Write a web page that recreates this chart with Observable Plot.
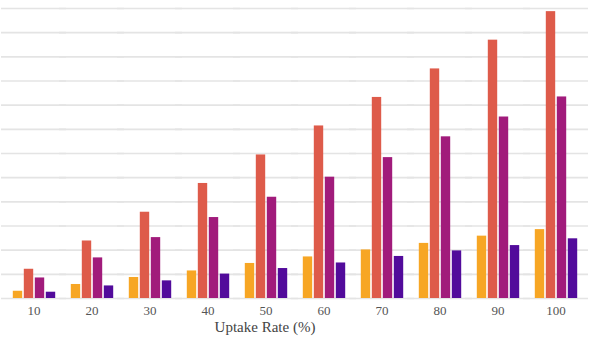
<!DOCTYPE html>
<html>
<head>
<meta charset="utf-8">
<script src="https://cdn.jsdelivr.net/npm/d3@7"></script>
<script src="https://cdn.jsdelivr.net/npm/@observablehq/plot@0.6"></script>
<style>
  html, body { margin: 0; padding: 0; background: #fff; }
</style>
</head>
<body>
<div id="chart"></div>
<script>
const groups = ["10", "20", "30", "40", "50", "60", "70", "80", "90", "100"];
const seriesNames = ["A", "B", "C", "D"];
const seriesColors = ["#f7a624", "#de5b4a", "#a11b7b", "#520b9b"];
const seriesA = [3.0, 5.8, 8.7, 11.4, 14.5, 17.2, 20.1, 22.8, 25.8, 28.5];
const seriesB = [12.1, 23.8, 35.7, 47.6, 59.4, 71.4, 83.2, 95.0, 106.9, 118.7];
const seriesC = [8.5, 16.8, 25.2, 33.5, 41.9, 50.2, 58.3, 66.9, 75.1, 83.4];
const seriesD = [2.6, 5.2, 7.3, 10.1, 12.4, 14.7, 17.4, 19.7, 21.9, 24.7];
const gridValues = [0, 10, 20, 30, 40, 50, 60, 70, 80, 90, 100, 110, 120];
const xLabel = "Uptake Rate (%)";

const allSeries = [seriesA, seriesB, seriesC, seriesD];
const data = [];
groups.forEach((g, i) => {
  seriesNames.forEach((s, j) => {
    data.push({group: g, series: s, value: allSeries[j][i]});
  });
});

const serif = "'Liberation Serif', 'DejaVu Serif', serif";

const chart = Plot.plot({
  width: 600,
  height: 338,
  marginLeft: 0,
  marginRight: 10,
  marginTop: 8,
  marginBottom: 40,
  style: {fontFamily: serif, background: "#fff"},
  fx: {domain: groups, paddingInner: 0.22, paddingOuter: 0.17, label: null},
  x: {domain: seriesNames, axis: null, padding: 0},
  y: {domain: [0, 120], axis: null},
  color: {domain: seriesNames, range: seriesColors},
  marks: [
    Plot.ruleY(gridValues, {y: d => d, stroke: "#e4e4e4", strokeWidth: 1.6, insetLeft: -10, insetRight: -10}),
    Plot.barY(data, {fx: "group", x: "series", y: "value", fill: "series", insetLeft: 0.8, insetRight: 0.8}),
    Plot.axisFx({anchor: "bottom", tickSize: 0, tickPadding: 7, fontSize: 13, fontFamily: serif, color: "#555", label: null}),
    Plot.text([xLabel], {frameAnchor: "bottom", dy: 33, dx: -30, text: d => d, fontSize: 15, fontFamily: serif, fill: "#444", facet: "super"})
  ]
});
document.getElementById("chart").append(chart);
</script>
</body>
</html>
